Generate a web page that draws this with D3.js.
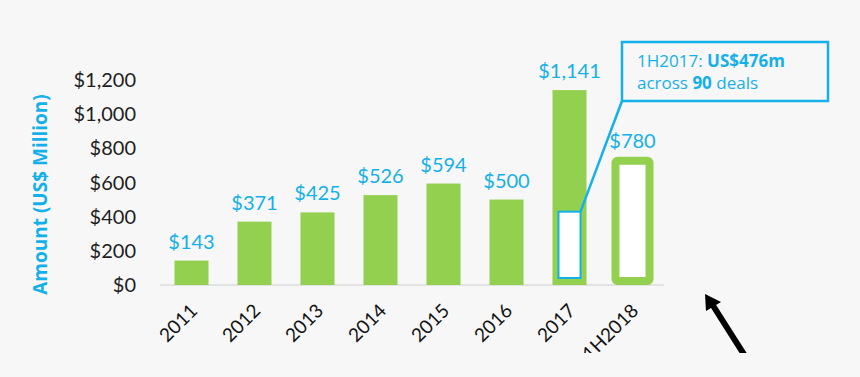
<!DOCTYPE html>
<html>
<head>
<meta charset="utf-8">
<script src="https://cdn.jsdelivr.net/npm/d3@7"></script>
<style>
  body { margin: 0; background: #f7f7f7; }
  svg { display: block; font-family: Lato, "Open Sans", sans-serif; }
</style>
</head>
<body>
<div id="chart"></div>
<script>
// data
const years = ["2011", "2012", "2013", "2014", "2015", "2016", "2017", "1H2018"];
const amounts = [143, 371, 425, 526, 594, 500, 1141, 780];
const yTicks = [0, 200, 400, 600, 800, 1000, 1200];
const partialYear = "1H2018";        // drawn as an outlined bar
const calloutYear = "2017";
const calloutLabel = "1H2017";
const calloutAmount = 476;
const calloutDeals = 90;

const green = "#94d050";
const blue = "#14b0ea";

const svg = d3.select("#chart")
  .append("svg")
  .attr("width", 860)
  .attr("height", 377);

svg.append("rect").attr("width", 860).attr("height", 377).attr("fill", "#f7f7f7");

const x = d3.scaleBand()
  .domain(years)
  .range([160, 664])
  .paddingInner(0.46)
  .paddingOuter(0.23);

const y = d3.scaleLinear()
  .domain([0, 1200])
  .range([285, 80]);

const data = years.map((d, i) => ({ year: d, value: amounts[i] }));

// baseline
svg.append("line")
  .attr("x1", x.range()[0]).attr("x2", x.range()[1])
  .attr("y1", y(0)).attr("y2", y(0))
  .attr("stroke", "#e2e2e2")
  .attr("stroke-width", 2);

// y axis labels
svg.append("g")
  .selectAll("text")
  .data(yTicks)
  .join("text")
  .attr("x", 136)
  .attr("y", d => y(d))
  .attr("dy", "0.35em")
  .attr("text-anchor", "end")
  .attr("font-size", 20)
  .attr("fill", "#1e1e1e")
  .text(d => d3.format("$,")(d));

svg.append("text")
  .attr("transform", `translate(47,${(y(0) + y(1200)) / 2 + 12}) rotate(-90)`)
  .attr("text-anchor", "middle")
  .attr("font-family", "'Open Sans', sans-serif")
  .attr("font-size", 19)
  .attr("font-weight", "bold")
  .attr("fill", blue)
  .text("Amount (US$ Million)");

// full-year bars
const full = data.filter(d => d.year !== partialYear);
svg.append("g")
  .selectAll("rect")
  .data(full)
  .join("rect")
  .attr("x", d => x(d.year))
  .attr("y", d => y(d.value))
  .attr("width", x.bandwidth())
  .attr("height", d => y(0) - y(d.value))
  .attr("fill", green);

// partial-year bar: thick green outline, white inside
const part = data.find(d => d.year === partialYear);
svg.append("rect")
  .attr("x", x(part.year))
  .attr("y", y(part.value) + 9)
  .attr("width", x.bandwidth())
  .attr("height", y(0) - 4 - (y(part.value) + 9))
  .attr("rx", 2)
  .attr("fill", "#fff")
  .attr("stroke", green)
  .attr("stroke-width", 8);

// value labels
svg.append("g")
  .selectAll("text")
  .data(data)
  .join("text")
  .attr("x", d => x(d.year) + x.bandwidth() / 2)
  .attr("y", d => d.year === partialYear ? y(d.value) - 4 : y(d.value) - 12)
  .attr("text-anchor", "middle")
  .attr("font-size", 20)
  .attr("fill", blue)
  .text(d => d3.format("$,")(d.value));

// 1H2017 highlight inside the 2017 bar
const bx = x(calloutYear) + 6;
const bw = x.bandwidth() - 12;
const by = y(calloutAmount) + 8;
const bb = y(0) - 7;
svg.append("rect")
  .attr("x", bx)
  .attr("y", by)
  .attr("width", bw)
  .attr("height", bb - by)
  .attr("fill", "#fff")
  .attr("stroke", blue)
  .attr("stroke-width", 2);

// callout box
const cx = 622, cy = 42, cw = 206, ch = 59;
svg.append("line")
  .attr("x1", bx + bw).attr("y1", by)
  .attr("x2", cx).attr("y2", cy + ch)
  .attr("stroke", blue)
  .attr("stroke-width", 2.5);

svg.append("rect")
  .attr("x", cx).attr("y", cy)
  .attr("width", cw).attr("height", ch)
  .attr("fill", "#f7f7f7")
  .attr("stroke", blue)
  .attr("stroke-width", 2.5);

const t1 = svg.append("text")
  .attr("x", cx + 15).attr("y", cy + 25)
  .attr("font-family", "'Open Sans', sans-serif")
  .attr("font-size", 17)
  .attr("fill", blue);
t1.append("tspan").text(calloutLabel + ": ");
t1.append("tspan").attr("font-weight", "bold").text(`US$${calloutAmount}m`);

const t2 = svg.append("text")
  .attr("x", cx + 15).attr("y", cy + 47)
  .attr("font-family", "'Open Sans', sans-serif")
  .attr("font-size", 17)
  .attr("fill", blue);
t2.append("tspan").text("across ");
t2.append("tspan").attr("font-weight", "bold").text(calloutDeals);
t2.append("tspan").text(" deals");

// x labels, clipped at bottom like the source
svg.append("clipPath").attr("id", "clip")
  .append("rect").attr("width", 860).attr("height", 353);

const bottom = svg.append("g").attr("clip-path", "url(#clip)");

bottom.selectAll("text")
  .data(years)
  .join("text")
  .attr("transform", d => `translate(${x(d) + x.bandwidth() / 2 + 7},${y(0) + 27}) rotate(-45)`)
  .attr("text-anchor", "end")
  .attr("font-size", 19)
  .attr("fill", "#111")
  .text(d => d);

// pointer arrow
bottom.append("line")
  .attr("x1", 745).attr("y1", 356)
  .attr("x2", 712).attr("y2", 304)
  .attr("stroke", "#000")
  .attr("stroke-width", 6);
bottom.append("path")
  .attr("d", "M705,294 L721,302 L706,311 Z")
  .attr("fill", "#000");
</script>
</body>
</html>
